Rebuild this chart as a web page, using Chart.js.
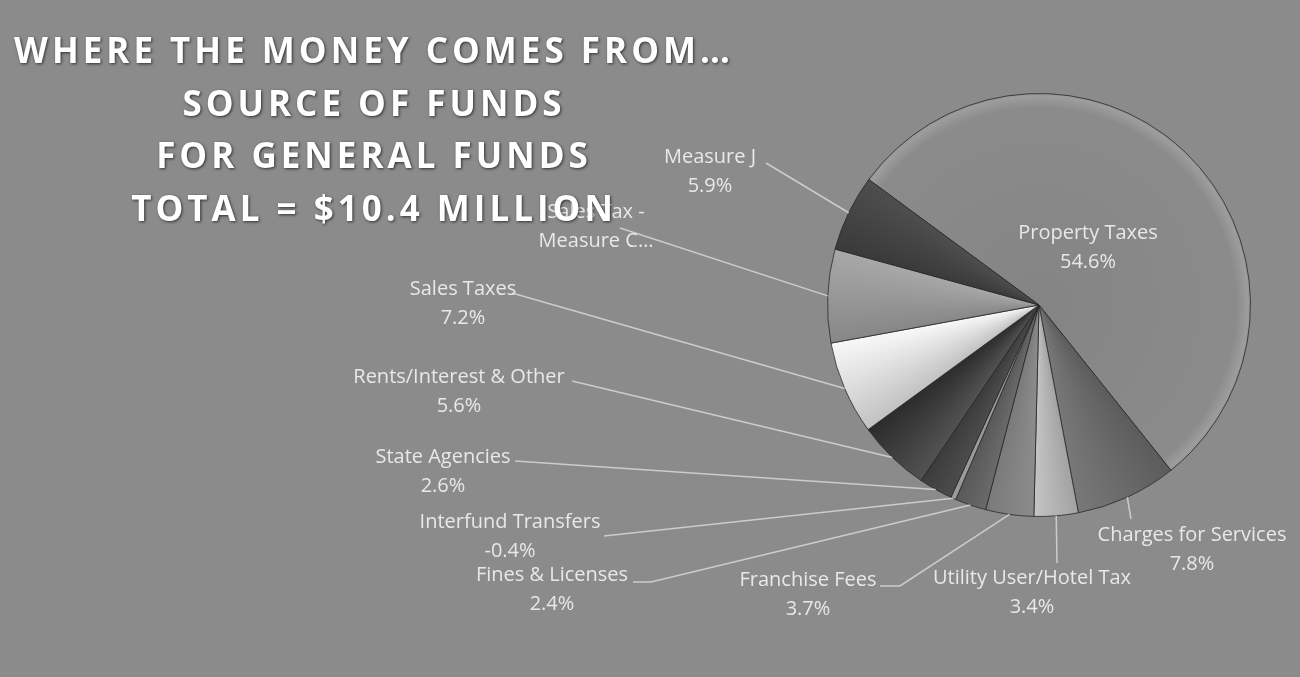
<!DOCTYPE html>
<html>
<head>
<meta charset="utf-8">
<title>Source of Funds - General Fund</title>
<script src="https://cdn.jsdelivr.net/npm/chart.js@4.4.0/dist/chart.umd.min.js"></script>
<style>
    html, body { margin: 0; padding: 0; background: #8b8b8b; }
    #fundsChart { display: block; }
</style>
</head>
<body>
<canvas id="fundsChart" width="1300" height="677"></canvas>
<script>
// Revenue sources, clockwise from Property Taxes
const categories = [
    'Property Taxes',
    'Charges for Services',
    'Utility User/Hotel Tax',
    'Franchise Fees',
    'Fines & Licenses',
    'Interfund Transfers',
    'State Agencies',
    'Rents/Interest & Other',
    'Sales Taxes',
    'Sales Tax - Measure C',
    'Measure J'
];
// Share of the general fund, in percent
const shares = [54.6, 7.8, 3.4, 3.7, 2.4, -0.4, 2.6, 5.6, 7.2, 7.2, 5.9];

const titleLines = [
    'WHERE THE MONEY COMES FROM…',
    'SOURCE OF FUNDS',
    'FOR GENERAL FUNDS',
    'TOTAL = $10.4 MILLION'
];

// Grey shading for each slice: colour at its first edge, colour at its last edge
const sliceShades = [
    ['#8a8a8a', '#8a8a8a'],
    ['#5c5c5c', '#787878'],
    ['#a2a2a2', '#c4c4c4'],
    ['#8c8c8c', '#7a7a7a'],
    ['#6a6a6a', '#585858'],
    ['#9a9a9a', '#9a9a9a'],
    ['#4c4c4c', '#3c3c3c'],
    ['#525252', '#2c2c2c'],
    ['#c2c2c2', '#f8f8f8'],
    ['#878787', '#a8a8a8'],
    ['#3a3a3a', '#4e4e4e']
];

// Callout placement: text centre, leader start, optional elbow x
const callouts = [
    { x: 1088, y: 233 },
    { x: 1192, y: 535, lx: 1131, ly: 519 },
    { x: 1032, y: 578, lx: 1057, ly: 563 },
    { x: 808, y: 580, lx: 880, ly: 586, ex: 900 },
    { x: 552, y: 575, lx: 633, ly: 582, ex: 651 },
    { x: 510, y: 522, lx: 604, ly: 536 },
    { x: 443, y: 457, lx: 515, ly: 461 },
    { x: 459, y: 377, lx: 572, ly: 381 },
    { x: 463, y: 289, lx: 512, ly: 293 },
    { x: 596, y: 212, lx: 620, ly: 228 },
    { x: 710, y: 157, lx: 766, ly: 163 }
];

const startRotation = -53.6;

function calloutText(i) {
    if (categories[i] === 'Sales Tax - Measure C') {
        return ['Sales Tax -', 'Measure C…'];
    }
    return [categories[i], shares[i].toFixed(1) + '%'];
}

// Conic gradient across one slice, worked out from the data so it is ready before the arcs exist
function sliceFill(context) {
    const chart = context.chart;
    const area = chart.chartArea;
    const i = context.dataIndex;
    if (!area || i === undefined) {
        return sliceShades[i || 0][0];
    }
    const ctx = chart.ctx;
    const cx = (area.left + area.right) / 2;
    const cy = (area.top + area.bottom) / 2;
    const total = shares.reduce((s, v) => s + Math.abs(v), 0);
    let start = (startRotation - 90) * Math.PI / 180;
    for (let j = 0; j < i; j++) {
        start += Math.abs(shares[j]) / total * Math.PI * 2;
    }
    const frac = Math.abs(shares[i]) / total;

    if (i === 0) {
        // big slice gets a faint lighter rim along the outside
        const r = Math.min(area.right - area.left, area.bottom - area.top) / 2;
        const rg = ctx.createRadialGradient(cx, cy, 0, cx, cy, r);
        rg.addColorStop(0, '#848484');
        rg.addColorStop(0.93, '#8b8b8b');
        rg.addColorStop(0.985, '#9d9d9d');
        rg.addColorStop(1, '#929292');
        return rg;
    }
    const g = ctx.createConicGradient(start, cx, cy);
    g.addColorStop(0, sliceShades[i][0]);
    g.addColorStop(Math.min(frac, 1), sliceShades[i][1]);
    g.addColorStop(1, sliceShades[i][1]);
    return g;
}

// Page background
const backdrop = {
    id: 'backdrop',
    beforeDraw(chart) {
        const ctx = chart.ctx;
        ctx.save();
        ctx.fillStyle = '#8b8b8b';
        ctx.fillRect(0, 0, chart.width, chart.height);
        ctx.restore();
    }
};

// Leader lines, slice labels and the heading
const callouts3d = {
    id: 'callouts',
    afterDatasetsDraw(chart) {
        const ctx = chart.ctx;
        const arcs = chart.getDatasetMeta(0).data;

        ctx.save();
        ctx.strokeStyle = 'rgba(225, 225, 225, 0.75)';
        ctx.lineWidth = 1.5;
        arcs.forEach((arc, i) => {
            const c = callouts[i];
            if (c.lx === undefined) return;
            const p = arc.getProps(['x', 'y', 'startAngle', 'endAngle', 'outerRadius'], true);
            const mid = (p.startAngle + p.endAngle) / 2;
            const tx = p.x + Math.cos(mid) * p.outerRadius;
            const ty = p.y + Math.sin(mid) * p.outerRadius;
            ctx.beginPath();
            ctx.moveTo(c.lx, c.ly);
            if (c.ex !== undefined) ctx.lineTo(c.ex, c.ly);
            ctx.lineTo(tx, ty);
            ctx.stroke();
        });

        ctx.font = '20px "Open Sans"';
        ctx.fillStyle = '#e8e8e8';
        ctx.textAlign = 'center';
        ctx.textBaseline = 'middle';
        callouts.forEach((c, i) => {
            calloutText(i).forEach((line, k) => {
                ctx.fillText(line, c.x, c.y + k * 29);
            });
        });

        // heading sits on top of everything
        ctx.font = 'bold 35px "Open Sans"';
        ctx.letterSpacing = '4px';
        ctx.textBaseline = 'alphabetic';
        ctx.fillStyle = '#ffffff';
        ctx.shadowColor = 'rgba(0, 0, 0, 0.65)';
        ctx.shadowBlur = 3;
        ctx.shadowOffsetX = 1;
        ctx.shadowOffsetY = 1;
        titleLines.forEach((line, k) => {
            ctx.fillText(line, 374, 63 + k * 52.5);
        });
        ctx.restore();
    }
};

new Chart(document.getElementById('fundsChart'), {
    type: 'pie',
    data: {
        labels: categories,
        datasets: [{
            data: shares,
            backgroundColor: sliceFill,
            borderColor: 'rgba(40, 40, 40, 0.8)',
            borderWidth: 1
        }]
    },
    options: {
        responsive: false,
        animation: false,
        rotation: startRotation,
        layout: {
            padding: { left: 827, top: 93, right: 49, bottom: 160 }
        },
        plugins: {
            legend: { display: false },
            tooltip: { enabled: false }
        }
    },
    plugins: [backdrop, callouts3d]
});
</script>
</body>
</html>
